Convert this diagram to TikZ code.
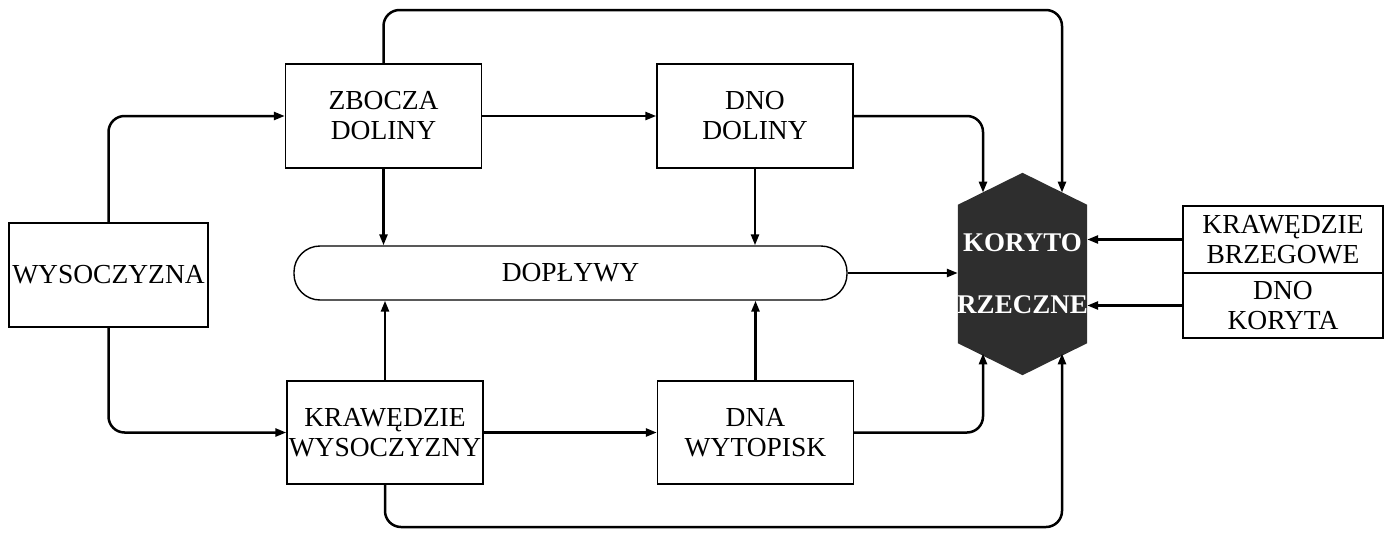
\documentclass[tikz,border=0pt]{standalone}
\usepackage{fontspec}
\setmainfont{Liberation Serif}
\usetikzlibrary{arrows.meta,calc}
\begin{document}
\begin{tikzpicture}[x=1pt,y=-1pt,
  box/.style={draw, line width=1.4pt, minimum width=196pt, minimum height=104pt, align=center, font=\fontsize{27.5}{30}\selectfont, inner sep=0pt},
  conn/.style={line width=2.5pt, rounded corners=16pt},
  arr/.style={conn, -{Triangle[length=11pt,width=8pt]}},
  hextext/.style={text=white, font=\fontsize{27}{30}\selectfont\bfseries, inner sep=0pt}]
\useasboundingbox (0,0) rectangle (1394,538);
% boxes
\node[box, minimum width=199pt] (wys) at (108.5,275) {WYSOCZYZNA};
\node[box] (zbo) at (383.5,116) {ZBOCZA\\DOLINY};
\node[box] (dno) at (755,116) {DNO\\DOLINY};
\node[box, minimum height=103pt] (kra) at (385,432.5) {KRAWĘDZIE\\WYSOCZYZNY};
\node[box, minimum height=103pt] (dna) at (755.5,432.5) {DNA\\WYTOPISK};
\node[draw, line width=1.4pt, rounded corners=26pt, minimum width=553pt, minimum height=54pt, inner sep=0pt, font=\fontsize{27.5}{30}\selectfont] (dop) at (570.5,273) {DOPŁYWY};
\node[box, minimum width=200pt, minimum height=67pt] (kb) at (1283,239.5) {KRAWĘDZIE\\BRZEGOWE};
\node[box, minimum width=200pt, minimum height=65pt] (dk) at (1283,305.5) {DNO\\KORYTA};
% hexagon
\node[minimum width=129pt, minimum height=138pt, inner sep=0pt] (kor) at (1022.5,274) {};
\fill[black!82] (kor.north west) -- ($(kor.north)+(0,-32)$) -- (kor.north east) -- (kor.south east) -- ($(kor.south)+(0,32)$) -- (kor.south west) -- cycle;
\node[hextext] (kor1) at (1022.5,243) {KORYTO};
\node[hextext] (kor2) at (1022.5,305) {RZECZNE};
% helper coordinates
\coordinate (h1) at (983,192.6);
\coordinate (h2) at (1062,192.6);
\coordinate (h3) at (983,353.4);
\coordinate (h4) at (1062,353.4);
\coordinate (topy) at (0,10);
\coordinate (boty) at (0,527);
% connectors
\draw[arr] (zbo.east) -- (dno.west);
\draw[arr] (kra.east) -- (dna.west);
\draw[arr] (dno.east) -| (h1);
\draw[arr] (dna.east) -| (h3);
\draw[arr] (wys.north) |- (zbo.west);
\draw[arr] (wys.south) |- (kra.west);
\draw[arr] (zbo.north) -- (zbo.north |- topy) -- (h2 |- topy) -- (h2);
\draw[arr] (kra.south) -- (kra.south |- boty) -- (h4 |- boty) -- (h4);
\draw[arr] (zbo.south) -- (zbo.south |- dop.north);
\draw[arr] (dno.south) -- (dno.south |- dop.north);
\draw[arr] (kra.north) -- (kra.north |- dop.south);
\draw[arr] (dna.north) -- (dna.north |- dop.south);
\draw[arr] (dop.east) -- (dop.east -| kor.west);
\draw[arr] (kb.west) -- (kb.west -| kor.east);
\draw[arr] (dk.west) -- (dk.west -| kor.east);
\end{tikzpicture}
\end{document}
